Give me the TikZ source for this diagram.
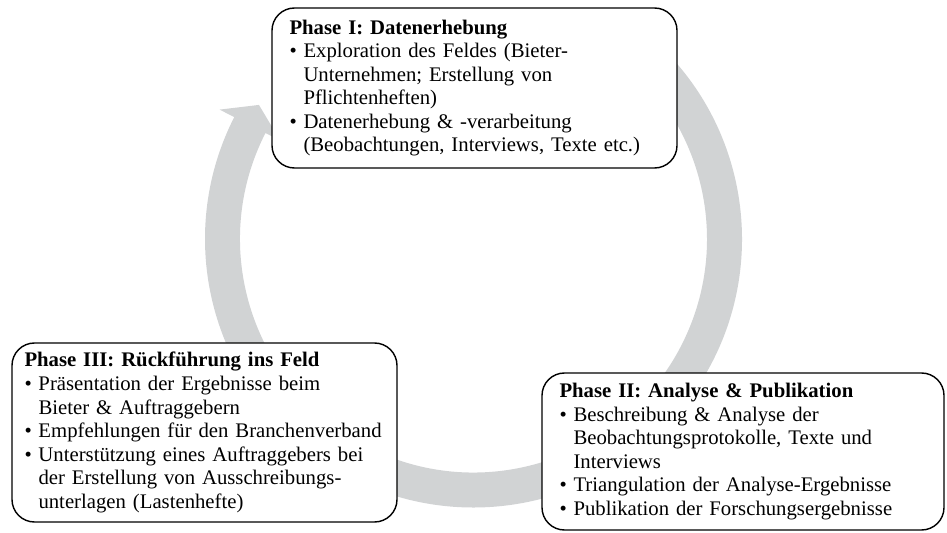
\documentclass[tikz,border=0pt]{standalone}
\usepackage{fontspec}
\setmainfont{Liberation Serif}
\usepackage{xcolor}
\usetikzlibrary{positioning}

\definecolor{ringgray}{HTML}{D1D3D4}
\newcommand{\itm}{\makebox[0.28cm][l]{\textbullet}}
\newcommand{\cnt}{\hspace*{0.28cm}}

\begin{document}
\begin{tikzpicture}[
    phase/.style={draw, line width=0.8pt, rounded corners=0.45cm, fill=white,
      align=left, inner xsep=0.35cm, font=\fontsize{11.8}{13.4}\selectfont},
  ]
  \useasboundingbox (0,0) rectangle (18.94,-10.66);

  % grey cycle arrow behind the boxes
  \begin{scope}[shift={(9.47,-4.78)}]
    \fill[ringgray] (50:5.37) arc[start angle=50, end angle=-207, radius=5.37]
      -- (-207:5.70) -- (-212:5.06) -- (-207:4.34) -- (-207:4.67)
      arc[start angle=-207, end angle=50, radius=4.67] -- cycle;
  \end{scope}

  \node[phase, text width=7.4cm, minimum height=3.2cm] (erhebung) at (9.49,-1.76)
    {\textbf{Phase I: Datenerhebung}\\
     \itm Exploration des Feldes (Bieter-\\
     \cnt Unternehmen; Erstellung von\\
     \cnt Pflichtenheften)\\
     \itm Datenerhebung \& -verarbeitung\\
     \cnt (Beobachtungen, Interviews, Texte etc.)};

  \node[phase, text width=7.34cm, minimum height=3.14cm] (analyse) at (14.86,-9.03)
    {\textbf{Phase II: Analyse \& Publikation}\\
     \itm Beschreibung \& Analyse der\\
     \cnt Beobachtungsprotokolle, Texte und\\
     \cnt Interviews\\
     \itm Triangulation der Analyse-Ergebnisse\\
     \itm Publikation der Forschungsergebnisse};

  \node[phase, inner xsep=0.25cm, text width=7.2cm, minimum height=3.58cm] (rueckfuehrung) at (4.09,-8.65)
    {\textbf{Phase III: Rückführung ins Feld}\\
     \itm Präsentation der Ergebnisse beim\\
     \cnt Bieter \& Auftraggebern\\
     \itm Empfehlungen für den Branchenverband\\
     \itm Unterstützung eines Auftraggebers bei\\
     \cnt der Erstellung von Ausschreibungs-\\
     \cnt unterlagen (Lastenhefte)};

\end{tikzpicture}
\end{document}
